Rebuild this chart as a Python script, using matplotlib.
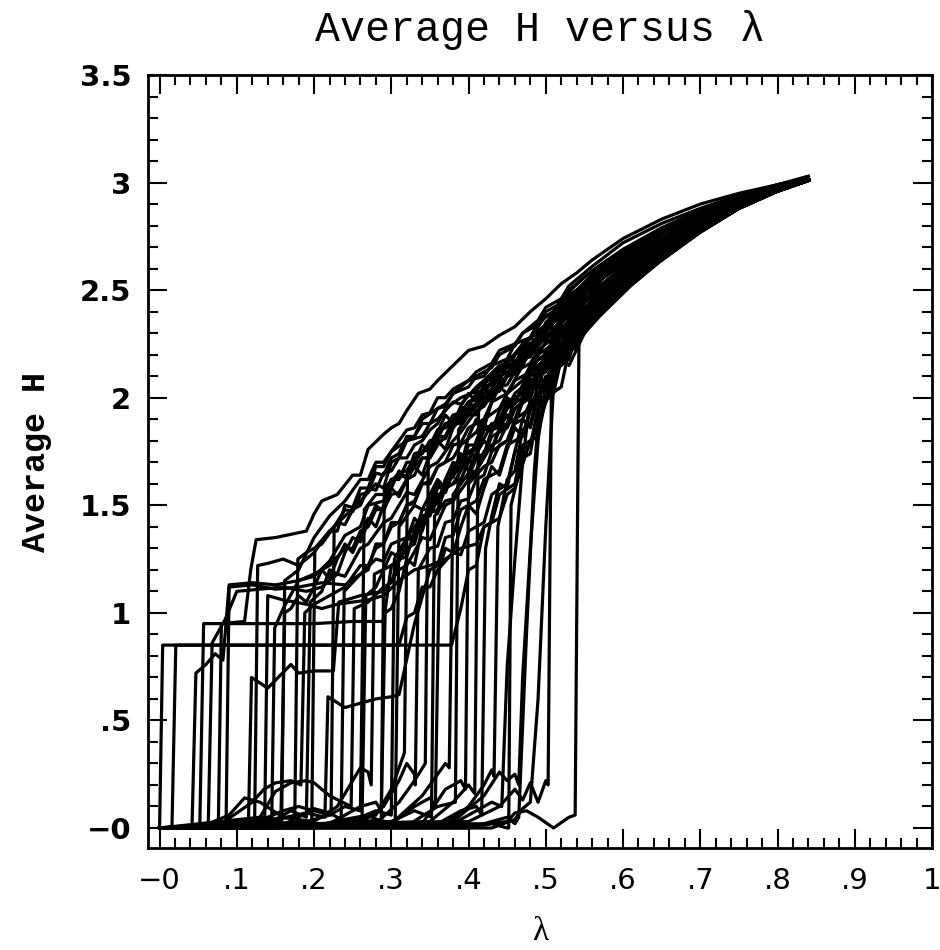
import matplotlib
matplotlib.use("Agg")
import matplotlib.pyplot as plt
from matplotlib.ticker import MultipleLocator

# one (lambda, H) knot list per run
run_01 = [(0.000, 0.00), (0.004, 0.85), (0.378, 0.85), (0.39, 1.02), (0.40, 1.20), (0.41, 1.22), (0.42, 1.40), (0.43, 1.42), (0.44, 1.55), (0.46, 1.60), (0.47, 1.78), (0.49, 1.82), (0.50, 2.00), (0.52, 2.05), (0.53, 2.22), (0.55, 2.30), (0.56, 2.38), (0.58, 2.44), (0.60, 2.52), (0.65, 2.65), (0.70, 2.78), (0.75, 2.88), (0.80, 2.96), (0.84, 3.01)]
run_02 = [(0.000, 0.00), (0.016, 0.00), (0.021, 0.85), (0.31, 0.85), (0.32, 0.98), (0.33, 1.00), (0.34, 1.12), (0.35, 1.12), (0.36, 1.20), (0.38, 1.28), (0.39, 1.27), (0.40, 1.38), (0.42, 1.42), (0.43, 1.55), (0.45, 1.60), (0.46, 1.75), (0.48, 1.78), (0.49, 1.95), (0.51, 2.02), (0.52, 2.18), (0.54, 2.24), (0.56, 2.38), (0.58, 2.44), (0.60, 2.53), (0.65, 2.66), (0.70, 2.79), (0.75, 2.89), (0.80, 2.96), (0.84, 3.01)]
run_03 = [(0.000, 0.00), (0.042, 0.01), (0.047, 0.72), (0.06, 0.76), (0.072, 0.81), (0.082, 0.78), (0.086, 0.95), (0.09, 1.13), (0.12, 1.14), (0.15, 1.13), (0.18, 1.15), (0.20, 1.17), (0.22, 1.24), (0.24, 1.36), (0.26, 1.40), (0.27, 1.50), (0.29, 1.52), (0.30, 1.62), (0.32, 1.64), (0.33, 1.74), (0.35, 1.76), (0.36, 1.85), (0.38, 1.88), (0.40, 1.98), (0.42, 2.02), (0.44, 2.14), (0.46, 2.16), (0.48, 2.28), (0.50, 2.32), (0.52, 2.43), (0.54, 2.46), (0.56, 2.55), (0.60, 2.66), (0.65, 2.76), (0.70, 2.85), (0.75, 2.93), (0.80, 2.98), (0.84, 3.02)]
run_04 = [(0.000, 0.00), (0.052, 0.00), (0.057, 0.95), (0.10, 0.95), (0.15, 0.95), (0.20, 0.95), (0.25, 0.96), (0.29, 0.96), (0.30, 1.22), (0.31, 1.25), (0.32, 1.35), (0.33, 1.33), (0.34, 1.45), (0.36, 1.48), (0.37, 1.58), (0.39, 1.62), (0.40, 1.70), (0.42, 1.74), (0.43, 1.85), (0.45, 1.88), (0.46, 2.00), (0.48, 2.04), (0.49, 2.15), (0.51, 2.20), (0.52, 2.30), (0.54, 2.34), (0.56, 2.45), (0.58, 2.50), (0.60, 2.59), (0.65, 2.71), (0.70, 2.82), (0.75, 2.91), (0.80, 2.97), (0.84, 3.01)]
run_05 = [(0.000, 0.00), (0.063, 0.01), (0.068, 0.86), (0.085, 0.97), (0.10, 1.10), (0.13, 1.11), (0.16, 1.12), (0.19, 1.10), (0.21, 1.12), (0.23, 1.18), (0.24, 1.17), (0.26, 1.30), (0.27, 1.32), (0.29, 1.42), (0.30, 1.44), (0.32, 1.56), (0.33, 1.55), (0.35, 1.68), (0.36, 1.70), (0.38, 1.80), (0.39, 1.84), (0.41, 1.94), (0.42, 1.96), (0.44, 2.07), (0.45, 2.10), (0.47, 2.20), (0.48, 2.24), (0.50, 2.34), (0.52, 2.38), (0.54, 2.47), (0.56, 2.50), (0.58, 2.58), (0.62, 2.67), (0.66, 2.76), (0.70, 2.84), (0.75, 2.92), (0.80, 2.98), (0.84, 3.02)]
run_06 = [(0.000, 0.00), (0.076, 0.00), (0.08, 0.95), (0.11, 0.96), (0.118, 1.20), (0.125, 1.34), (0.15, 1.35), (0.19, 1.38), (0.20, 1.46), (0.21, 1.52), (0.23, 1.55), (0.25, 1.64), (0.26, 1.64), (0.27, 1.76), (0.29, 1.83), (0.30, 1.86), (0.31, 1.88), (0.32, 1.94), (0.335, 2.02), (0.35, 2.04), (0.36, 2.08), (0.38, 2.15), (0.40, 2.22), (0.42, 2.24), (0.44, 2.29), (0.46, 2.33), (0.48, 2.40), (0.50, 2.46), (0.52, 2.53), (0.54, 2.58), (0.56, 2.64), (0.60, 2.74), (0.65, 2.83), (0.70, 2.90), (0.75, 2.95), (0.80, 2.99), (0.84, 3.03)]
run_07 = [(0.000, 0.00), (0.086, 0.00), (0.09, 1.12), (0.12, 1.13), (0.15, 1.11), (0.18, 1.12), (0.21, 1.14), (0.24, 1.13), (0.26, 1.18), (0.28, 1.25), (0.29, 1.24), (0.30, 1.32), (0.32, 1.35), (0.34, 1.45), (0.35, 1.46), (0.37, 1.58), (0.38, 1.60), (0.40, 1.72), (0.41, 1.74), (0.43, 1.88), (0.44, 1.88), (0.46, 2.02), (0.47, 2.05), (0.49, 2.18), (0.50, 2.20), (0.52, 2.32), (0.53, 2.36), (0.55, 2.45), (0.57, 2.48), (0.58, 2.55), (0.62, 2.65), (0.66, 2.74), (0.70, 2.83), (0.75, 2.91), (0.80, 2.97), (0.84, 3.02)]
run_08 = [(0.000, 0.00), (0.10, 0.02), (0.115, 0.02), (0.119, 0.70), (0.14, 0.65), (0.17, 0.76), (0.18, 0.72), (0.20, 0.73), (0.225, 0.73), (0.232, 1.05), (0.26, 1.08), (0.29, 1.10), (0.31, 1.20), (0.32, 1.22), (0.34, 1.35), (0.35, 1.34), (0.37, 1.50), (0.38, 1.52), (0.40, 1.62), (0.41, 1.66), (0.43, 1.78), (0.44, 1.80), (0.46, 1.95), (0.47, 1.98), (0.49, 2.12), (0.50, 2.15), (0.52, 2.28), (0.53, 2.32), (0.55, 2.42), (0.56, 2.44), (0.58, 2.52), (0.62, 2.62), (0.66, 2.72), (0.70, 2.81), (0.75, 2.90), (0.80, 2.96), (0.84, 3.01)]
run_09 = [(0.000, 0.00), (0.123, 0.01), (0.127, 1.22), (0.14, 1.23), (0.16, 1.25), (0.18, 1.22), (0.20, 1.28), (0.22, 1.38), (0.24, 1.45), (0.26, 1.52), (0.28, 1.60), (0.29, 1.58), (0.30, 1.70), (0.31, 1.72), (0.32, 1.80), (0.34, 1.82), (0.35, 1.88), (0.36, 1.90), (0.38, 1.98), (0.39, 1.97), (0.41, 2.05), (0.42, 2.08), (0.44, 2.15), (0.45, 2.16), (0.47, 2.25), (0.48, 2.28), (0.50, 2.38), (0.51, 2.40), (0.53, 2.48), (0.54, 2.50), (0.56, 2.57), (0.60, 2.66), (0.65, 2.76), (0.70, 2.85), (0.75, 2.93), (0.80, 2.98), (0.84, 3.02)]
run_10 = [(0.000, 0.00), (0.136, 0.02), (0.14, 1.08), (0.16, 1.06), (0.19, 1.04), (0.21, 1.02), (0.23, 1.04), (0.25, 1.05), (0.27, 1.06), (0.29, 1.08), (0.31, 1.15), (0.33, 1.20), (0.35, 1.22), (0.37, 1.25), (0.39, 1.30), (0.41, 1.32), (0.42, 1.40), (0.44, 1.44), (0.45, 1.55), (0.46, 1.58), (0.48, 1.80), (0.49, 1.86), (0.51, 2.10), (0.52, 2.16), (0.54, 2.33), (0.55, 2.36), (0.57, 2.46), (0.61, 2.58), (0.65, 2.69), (0.70, 2.80), (0.75, 2.90), (0.80, 2.97), (0.84, 3.02)]
run_11 = [(0.000, 0.00), (0.145, 0.00), (0.149, 0.93), (0.16, 1.02), (0.18, 1.15), (0.20, 1.18), (0.22, 1.22), (0.24, 1.30), (0.25, 1.30), (0.26, 1.38), (0.27, 1.40), (0.28, 1.48), (0.29, 1.48), (0.30, 1.55), (0.31, 1.56), (0.32, 1.62), (0.33, 1.64), (0.34, 1.72), (0.35, 1.72), (0.36, 1.78), (0.37, 1.82), (0.38, 1.88), (0.40, 1.92), (0.42, 2.00), (0.43, 2.02), (0.45, 2.10), (0.46, 2.12), (0.48, 2.22), (0.49, 2.25), (0.51, 2.35), (0.52, 2.38), (0.54, 2.48), (0.55, 2.50), (0.58, 2.58), (0.62, 2.67), (0.66, 2.76), (0.70, 2.84), (0.75, 2.92), (0.80, 2.98), (0.84, 3.02)]
run_12 = [(0.000, 0.00), (0.158, 0.03), (0.162, 1.15), (0.18, 1.20), (0.20, 1.35), (0.22, 1.45), (0.24, 1.52), (0.26, 1.62), (0.27, 1.62), (0.28, 1.70), (0.29, 1.70), (0.30, 1.75), (0.31, 1.80), (0.32, 1.85), (0.33, 1.86), (0.34, 1.92), (0.35, 1.93), (0.36, 2.00), (0.37, 2.00), (0.38, 2.04), (0.40, 2.08), (0.41, 2.12), (0.43, 2.16), (0.44, 2.22), (0.46, 2.25), (0.47, 2.30), (0.49, 2.36), (0.50, 2.42), (0.52, 2.46), (0.53, 2.52), (0.56, 2.61), (0.60, 2.72), (0.65, 2.81), (0.70, 2.88), (0.75, 2.94), (0.80, 2.99), (0.84, 3.02)]
run_13 = [(0.000, 0.00), (0.175, 0.05), (0.179, 1.25), (0.19, 1.28), (0.21, 1.32), (0.23, 1.42), (0.24, 1.41), (0.25, 1.48), (0.26, 1.50), (0.27, 1.58), (0.28, 1.57), (0.29, 1.65), (0.30, 1.66), (0.31, 1.72), (0.32, 1.72), (0.33, 1.78), (0.34, 1.80), (0.35, 1.85), (0.36, 1.88), (0.37, 1.95), (0.39, 2.00), (0.41, 2.03), (0.42, 2.08), (0.44, 2.12), (0.45, 2.18), (0.47, 2.22), (0.48, 2.28), (0.50, 2.34), (0.51, 2.40), (0.53, 2.45), (0.54, 2.50), (0.57, 2.59), (0.61, 2.69), (0.65, 2.78), (0.70, 2.86), (0.75, 2.93), (0.80, 2.98), (0.84, 3.02)]
run_14 = [(0.000, 0.00), (0.08, 0.02), (0.12, 0.12), (0.135, 0.18), (0.15, 0.21), (0.17, 0.22), (0.183, 0.20), (0.188, 1.00), (0.20, 1.04), (0.22, 1.08), (0.24, 1.12), (0.26, 1.22), (0.27, 1.22), (0.28, 1.30), (0.29, 1.32), (0.30, 1.42), (0.31, 1.42), (0.32, 1.50), (0.33, 1.52), (0.34, 1.60), (0.35, 1.60), (0.36, 1.68), (0.38, 1.72), (0.39, 1.78), (0.41, 1.84), (0.42, 1.90), (0.44, 1.95), (0.45, 2.02), (0.47, 2.08), (0.48, 2.15), (0.50, 2.20), (0.51, 2.28), (0.53, 2.34), (0.54, 2.42), (0.58, 2.53), (0.62, 2.63), (0.66, 2.73), (0.70, 2.82), (0.75, 2.91), (0.80, 2.97), (0.84, 3.02)]
run_15 = [(0.000, 0.00), (0.05, 0.00), (0.09, 0.06), (0.11, 0.14), (0.13, 0.12), (0.16, 0.05), (0.197, 0.03), (0.201, 1.30), (0.22, 1.38), (0.23, 1.38), (0.24, 1.50), (0.25, 1.49), (0.26, 1.58), (0.27, 1.58), (0.28, 1.68), (0.29, 1.68), (0.30, 1.75), (0.32, 1.80), (0.33, 1.82), (0.34, 1.88), (0.35, 1.88), (0.36, 1.95), (0.37, 1.96), (0.38, 2.02), (0.40, 2.05), (0.41, 2.10), (0.43, 2.14), (0.44, 2.20), (0.46, 2.24), (0.47, 2.30), (0.49, 2.34), (0.50, 2.40), (0.52, 2.44), (0.53, 2.50), (0.56, 2.59), (0.60, 2.69), (0.65, 2.79), (0.70, 2.87), (0.75, 2.94), (0.80, 2.98), (0.84, 3.02)]
run_16 = [(0.000, 0.00), (0.10, 0.00), (0.15, 0.04), (0.19, 0.07), (0.214, 0.05), (0.218, 0.61), (0.24, 0.56), (0.26, 0.58), (0.28, 0.60), (0.30, 0.61), (0.31, 0.62), (0.33, 0.95), (0.35, 1.20), (0.36, 1.22), (0.37, 1.35), (0.38, 1.36), (0.39, 1.48), (0.41, 1.52), (0.42, 1.62), (0.44, 1.66), (0.45, 1.78), (0.47, 1.82), (0.48, 1.95), (0.50, 2.00), (0.51, 2.12), (0.53, 2.18), (0.54, 2.30), (0.56, 2.36), (0.57, 2.43), (0.61, 2.55), (0.65, 2.67), (0.70, 2.79), (0.75, 2.89), (0.80, 2.96), (0.84, 3.01)]
run_17 = [(0.000, 0.00), (0.12, 0.02), (0.16, 0.08), (0.18, 0.10), (0.20, 0.08), (0.222, 0.06), (0.226, 1.40), (0.24, 1.48), (0.25, 1.47), (0.26, 1.55), (0.27, 1.56), (0.28, 1.65), (0.29, 1.64), (0.30, 1.72), (0.31, 1.74), (0.32, 1.82), (0.33, 1.82), (0.34, 1.90), (0.36, 1.95), (0.37, 1.97), (0.38, 2.02), (0.40, 2.08), (0.42, 2.10), (0.43, 2.15), (0.45, 2.18), (0.46, 2.25), (0.48, 2.28), (0.49, 2.35), (0.51, 2.40), (0.52, 2.46), (0.55, 2.56), (0.58, 2.64), (0.62, 2.72), (0.66, 2.80), (0.70, 2.87), (0.75, 2.94), (0.80, 2.99), (0.84, 3.02)]
run_18 = [(0.000, 0.00), (0.15, 0.00), (0.18, 0.05), (0.20, 0.09), (0.22, 0.07), (0.235, 0.04), (0.239, 1.10), (0.26, 1.18), (0.27, 1.20), (0.28, 1.32), (0.29, 1.32), (0.30, 1.40), (0.31, 1.42), (0.32, 1.50), (0.33, 1.51), (0.34, 1.60), (0.35, 1.61), (0.36, 1.68), (0.37, 1.70), (0.38, 1.78), (0.39, 1.79), (0.40, 1.86), (0.42, 1.90), (0.43, 1.98), (0.45, 2.02), (0.46, 2.08), (0.48, 2.12), (0.49, 2.20), (0.51, 2.25), (0.52, 2.32), (0.54, 2.38), (0.55, 2.44), (0.58, 2.53), (0.62, 2.63), (0.66, 2.72), (0.70, 2.82), (0.75, 2.91), (0.80, 2.97), (0.84, 3.02)]
run_19 = [(0.000, 0.00), (0.13, 0.05), (0.15, 0.17), (0.17, 0.21), (0.19, 0.22), (0.20, 0.21), (0.22, 0.15), (0.248, 0.10), (0.252, 1.02), (0.27, 1.05), (0.29, 1.12), (0.30, 1.14), (0.31, 1.25), (0.32, 1.26), (0.33, 1.38), (0.34, 1.38), (0.35, 1.50), (0.36, 1.51), (0.37, 1.62), (0.38, 1.63), (0.39, 1.72), (0.41, 1.76), (0.42, 1.85), (0.44, 1.88), (0.45, 1.98), (0.47, 2.02), (0.48, 2.12), (0.50, 2.16), (0.51, 2.25), (0.53, 2.30), (0.54, 2.38), (0.57, 2.49), (0.61, 2.61), (0.65, 2.72), (0.70, 2.82), (0.75, 2.91), (0.80, 2.97), (0.84, 3.02)]
run_20 = [(0.000, 0.00), (0.18, 0.02), (0.22, 0.06), (0.24, 0.10), (0.26, 0.08), (0.265, 1.48), (0.28, 1.55), (0.29, 1.55), (0.30, 1.62), (0.31, 1.62), (0.32, 1.70), (0.33, 1.70), (0.34, 1.75), (0.35, 1.78), (0.36, 1.85), (0.37, 1.86), (0.38, 1.92), (0.39, 1.93), (0.40, 1.98), (0.41, 2.00), (0.42, 2.05), (0.44, 2.08), (0.45, 2.15), (0.47, 2.18), (0.48, 2.25), (0.50, 2.30), (0.51, 2.36), (0.53, 2.42), (0.54, 2.47), (0.57, 2.57), (0.61, 2.68), (0.65, 2.77), (0.70, 2.85), (0.75, 2.92), (0.80, 2.98), (0.84, 3.02)]
run_21 = [(0.000, 0.00), (0.20, 0.03), (0.23, 0.10), (0.25, 0.22), (0.26, 0.28), (0.27, 0.26), (0.274, 0.20), (0.278, 1.18), (0.30, 1.22), (0.31, 1.24), (0.32, 1.30), (0.33, 1.32), (0.34, 1.45), (0.35, 1.45), (0.36, 1.55), (0.37, 1.56), (0.38, 1.68), (0.39, 1.68), (0.40, 1.78), (0.41, 1.78), (0.42, 1.85), (0.44, 1.90), (0.45, 1.98), (0.47, 2.02), (0.48, 2.10), (0.50, 2.15), (0.51, 2.22), (0.53, 2.28), (0.54, 2.35), (0.57, 2.46), (0.61, 2.57), (0.65, 2.68), (0.70, 2.80), (0.75, 2.90), (0.80, 2.97), (0.84, 3.01)]
run_22 = [(0.000, 0.00), (0.20, 0.00), (0.24, 0.04), (0.27, 0.06), (0.287, 0.03), (0.291, 1.58), (0.31, 1.65), (0.32, 1.66), (0.33, 1.72), (0.34, 1.74), (0.35, 1.80), (0.36, 1.81), (0.37, 1.88), (0.38, 1.89), (0.39, 1.95), (0.40, 1.96), (0.41, 2.02), (0.43, 2.06), (0.44, 2.12), (0.46, 2.16), (0.47, 2.22), (0.49, 2.26), (0.50, 2.32), (0.52, 2.38), (0.53, 2.44), (0.56, 2.54), (0.60, 2.64), (0.65, 2.74), (0.70, 2.83), (0.75, 2.92), (0.80, 2.98), (0.84, 3.02)]
run_23 = [(0.000, 0.00), (0.22, 0.01), (0.26, 0.05), (0.28, 0.08), (0.300, 0.06), (0.304, 1.25), (0.32, 1.35), (0.33, 1.36), (0.34, 1.48), (0.35, 1.48), (0.36, 1.58), (0.37, 1.59), (0.38, 1.65), (0.39, 1.68), (0.40, 1.75), (0.41, 1.77), (0.42, 1.85), (0.44, 1.88), (0.45, 1.95), (0.47, 2.00), (0.48, 2.08), (0.50, 2.12), (0.51, 2.20), (0.53, 2.26), (0.54, 2.33), (0.57, 2.44), (0.61, 2.56), (0.65, 2.68), (0.70, 2.79), (0.75, 2.89), (0.80, 2.96), (0.84, 3.01)]
run_24 = [(0.000, 0.00), (0.24, 0.02), (0.28, 0.06), (0.30, 0.18), (0.31, 0.28), (0.317, 0.35), (0.321, 1.65), (0.34, 1.72), (0.35, 1.72), (0.36, 1.80), (0.37, 1.81), (0.38, 1.88), (0.39, 1.88), (0.40, 1.96), (0.41, 1.97), (0.42, 2.02), (0.43, 2.04), (0.44, 2.10), (0.46, 2.14), (0.47, 2.20), (0.49, 2.25), (0.50, 2.32), (0.52, 2.38), (0.53, 2.45), (0.56, 2.56), (0.60, 2.67), (0.65, 2.77), (0.70, 2.85), (0.75, 2.92), (0.80, 2.98), (0.84, 3.02)]
run_25 = [(0.000, 0.00), (0.26, 0.02), (0.29, 0.10), (0.31, 0.22), (0.32, 0.30), (0.33, 0.25), (0.331, 0.20), (0.335, 1.20), (0.35, 1.30), (0.36, 1.31), (0.37, 1.42), (0.38, 1.43), (0.39, 1.52), (0.40, 1.53), (0.41, 1.62), (0.42, 1.64), (0.43, 1.75), (0.45, 1.80), (0.46, 1.90), (0.48, 1.95), (0.49, 2.05), (0.51, 2.12), (0.52, 2.22), (0.54, 2.30), (0.55, 2.36), (0.58, 2.46), (0.62, 2.58), (0.66, 2.69), (0.70, 2.79), (0.75, 2.89), (0.80, 2.96), (0.84, 3.01)]
run_26 = [(0.000, 0.00), (0.28, 0.02), (0.31, 0.12), (0.33, 0.22), (0.344, 0.30), (0.348, 1.75), (0.36, 1.82), (0.37, 1.82), (0.38, 1.90), (0.39, 1.91), (0.40, 1.98), (0.41, 1.99), (0.42, 2.05), (0.43, 2.06), (0.44, 2.12), (0.46, 2.16), (0.47, 2.22), (0.49, 2.28), (0.50, 2.34), (0.52, 2.40), (0.53, 2.46), (0.56, 2.57), (0.60, 2.68), (0.65, 2.78), (0.70, 2.86), (0.75, 2.93), (0.80, 2.98), (0.84, 3.02)]
run_27 = [(0.000, 0.00), (0.30, 0.03), (0.33, 0.08), (0.352, 0.05), (0.356, 1.45), (0.37, 1.52), (0.38, 1.53), (0.39, 1.62), (0.40, 1.63), (0.41, 1.72), (0.42, 1.73), (0.43, 1.82), (0.45, 1.86), (0.46, 1.95), (0.48, 2.00), (0.49, 2.10), (0.51, 2.16), (0.52, 2.25), (0.54, 2.32), (0.55, 2.40), (0.58, 2.51), (0.62, 2.62), (0.66, 2.72), (0.70, 2.81), (0.75, 2.90), (0.80, 2.97), (0.84, 3.02)]
run_28 = [(0.000, 0.00), (0.30, 0.02), (0.34, 0.15), (0.36, 0.25), (0.37, 0.30), (0.375, 0.28), (0.38, 1.55), (0.40, 1.65), (0.41, 1.66), (0.42, 1.75), (0.43, 1.76), (0.44, 1.85), (0.46, 1.90), (0.47, 2.00), (0.49, 2.06), (0.50, 2.15), (0.52, 2.22), (0.53, 2.28), (0.55, 2.35), (0.56, 2.40), (0.60, 2.52), (0.65, 2.64), (0.70, 2.77), (0.75, 2.88), (0.80, 2.96), (0.84, 3.01)]
run_29 = [(0.000, 0.00), (0.32, 0.01), (0.36, 0.10), (0.383, 0.12), (0.387, 1.85), (0.40, 1.92), (0.41, 1.92), (0.42, 1.98), (0.43, 1.99), (0.44, 2.05), (0.45, 2.06), (0.46, 2.12), (0.48, 2.16), (0.49, 2.22), (0.51, 2.28), (0.52, 2.35), (0.54, 2.42), (0.55, 2.48), (0.58, 2.59), (0.62, 2.69), (0.66, 2.78), (0.70, 2.86), (0.75, 2.93), (0.80, 2.98), (0.84, 3.02)]
run_30 = [(0.000, 0.00), (0.34, 0.02), (0.37, 0.18), (0.39, 0.22), (0.396, 0.18), (0.40, 1.60), (0.42, 1.68), (0.43, 1.70), (0.44, 1.78), (0.45, 1.80), (0.46, 1.88), (0.47, 1.90), (0.48, 1.98), (0.50, 2.04), (0.51, 2.12), (0.53, 2.20), (0.54, 2.26), (0.57, 2.38), (0.61, 2.52), (0.65, 2.64), (0.70, 2.77), (0.75, 2.88), (0.80, 2.96), (0.84, 3.01)]
run_31 = [(0.000, 0.00), (0.35, 0.03), (0.38, 0.12), (0.40, 0.20), (0.408, 0.16), (0.413, 1.95), (0.43, 2.02), (0.44, 2.03), (0.45, 2.10), (0.46, 2.11), (0.47, 2.18), (0.48, 2.19), (0.49, 2.25), (0.51, 2.30), (0.52, 2.38), (0.54, 2.44), (0.55, 2.50), (0.58, 2.61), (0.62, 2.71), (0.66, 2.79), (0.70, 2.87), (0.75, 2.94), (0.80, 2.98), (0.84, 3.02)]
run_32 = [(0.000, 0.00), (0.37, 0.02), (0.40, 0.10), (0.42, 0.20), (0.43, 0.27), (0.433, 0.24), (0.438, 1.40), (0.45, 1.62), (0.46, 1.66), (0.47, 1.85), (0.48, 1.88), (0.49, 2.02), (0.50, 2.05), (0.51, 2.18), (0.53, 2.26), (0.54, 2.34), (0.57, 2.46), (0.61, 2.58), (0.65, 2.70), (0.70, 2.81), (0.75, 2.90), (0.80, 2.97), (0.84, 3.02)]
run_33 = [(0.000, 0.00), (0.38, 0.02), (0.41, 0.08), (0.43, 0.12), (0.443, 0.10), (0.45, 0.75), (0.46, 1.25), (0.47, 1.70), (0.48, 2.00), (0.50, 2.22), (0.51, 2.24), (0.52, 2.35), (0.54, 2.40), (0.55, 2.48), (0.58, 2.58), (0.62, 2.67), (0.66, 2.76), (0.70, 2.85), (0.75, 2.93), (0.80, 2.98), (0.84, 3.02)]
run_34 = [(0.000, 0.00), (0.40, 0.00), (0.43, 0.02), (0.45, 0.00), (0.452, 0.00), (0.455, 1.50), (0.47, 1.72), (0.48, 1.74), (0.49, 1.95), (0.50, 1.98), (0.51, 2.15), (0.52, 2.18), (0.53, 2.30), (0.56, 2.42), (0.60, 2.54), (0.65, 2.68), (0.70, 2.80), (0.75, 2.90), (0.80, 2.97), (0.84, 3.01)]
run_35 = [(0.000, 0.00), (0.40, 0.03), (0.44, 0.10), (0.46, 0.18), (0.47, 0.13), (0.48, 0.21), (0.49, 0.12), (0.50, 0.22), (0.503, 0.20), (0.508, 2.35), (0.52, 2.42), (0.54, 2.50), (0.57, 2.58), (0.61, 2.66), (0.65, 2.74), (0.70, 2.83), (0.75, 2.91), (0.80, 2.97), (0.84, 3.02)]
run_36 = [(0.000, 0.00), (0.40, 0.01), (0.45, 0.03), (0.46, 0.07), (0.475, 0.08), (0.49, 0.05), (0.51, 0.00), (0.53, 0.05), (0.538, 0.06), (0.543, 2.30), (0.56, 2.40), (0.58, 2.46), (0.61, 2.54), (0.65, 2.64), (0.70, 2.77), (0.75, 2.88), (0.80, 2.96), (0.84, 3.01)]
run_37 = [(0.000, 0.00), (0.42, 0.02), (0.45, 0.05), (0.46, 0.02), (0.465, 0.05), (0.475, 0.90), (0.485, 1.65), (0.495, 2.12), (0.51, 2.28), (0.53, 2.40), (0.56, 2.53), (0.60, 2.63), (0.65, 2.74), (0.70, 2.83), (0.75, 2.91), (0.80, 2.97), (0.84, 3.02)]
run_38 = [(0.000, 0.00), (0.43, 0.00), (0.46, 0.04), (0.47, 0.09), (0.48, 0.12), (0.49, 0.60), (0.50, 1.40), (0.51, 2.05), (0.525, 2.28), (0.54, 2.40), (0.57, 2.52), (0.61, 2.63), (0.65, 2.73), (0.70, 2.82), (0.75, 2.91), (0.80, 2.97), (0.84, 3.01)]
run_39 = [(0.000, 0.00), (0.14, 0.02), (0.17, 0.08), (0.19, 0.05), (0.195, 1.05), (0.21, 1.10), (0.22, 1.20), (0.23, 1.18), (0.24, 1.28), (0.25, 1.35), (0.26, 1.33), (0.27, 1.42), (0.28, 1.50), (0.29, 1.47), (0.30, 1.58), (0.31, 1.66), (0.32, 1.62), (0.33, 1.70), (0.34, 1.78), (0.35, 1.74), (0.36, 1.84), (0.37, 1.92), (0.38, 1.88), (0.39, 1.96), (0.40, 2.02), (0.41, 1.98), (0.42, 2.06), (0.44, 2.14), (0.45, 2.10), (0.46, 2.20), (0.48, 2.28), (0.49, 2.25), (0.50, 2.35), (0.52, 2.42), (0.53, 2.40), (0.55, 2.50), (0.58, 2.57), (0.62, 2.66), (0.66, 2.75), (0.70, 2.84), (0.75, 2.92), (0.80, 2.97), (0.84, 3.02)]
run_40 = [(0.000, 0.00), (0.22, 0.02), (0.26, 0.10), (0.28, 0.12), (0.287, 0.08), (0.292, 1.00), (0.30, 1.02), (0.31, 1.10), (0.32, 1.25), (0.33, 1.22), (0.34, 1.40), (0.35, 1.50), (0.36, 1.46), (0.37, 1.62), (0.38, 1.70), (0.39, 1.68), (0.40, 1.82), (0.41, 1.90), (0.42, 1.86), (0.43, 1.98), (0.44, 2.05), (0.45, 2.02), (0.47, 2.15), (0.48, 2.22), (0.49, 2.20), (0.51, 2.32), (0.53, 2.40), (0.55, 2.45), (0.57, 2.50), (0.60, 2.56), (0.65, 2.68), (0.70, 2.79), (0.75, 2.89), (0.80, 2.96), (0.84, 3.01)]
run_41 = [(0.000, 0.00), (0.25, 0.01), (0.28, 0.04), (0.305, 0.02), (0.31, 1.40), (0.32, 1.45), (0.33, 1.50), (0.34, 1.48), (0.35, 1.55), (0.36, 1.62), (0.37, 1.58), (0.38, 1.64), (0.39, 1.70), (0.40, 1.66), (0.41, 1.74), (0.42, 1.80), (0.43, 1.76), (0.44, 1.86), (0.45, 1.92), (0.46, 1.88), (0.47, 1.98), (0.49, 2.06), (0.50, 2.04), (0.52, 2.18), (0.54, 2.30), (0.56, 2.38), (0.58, 2.46), (0.61, 2.55), (0.65, 2.67), (0.70, 2.79), (0.75, 2.88), (0.80, 2.96), (0.84, 3.01)]
run_42 = [(0.000, 0.00), (0.30, 0.02), (0.33, 0.10), (0.35, 0.14), (0.357, 0.10), (0.362, 1.20), (0.37, 1.30), (0.38, 1.28), (0.39, 1.40), (0.40, 1.50), (0.41, 1.46), (0.42, 1.58), (0.43, 1.68), (0.44, 1.64), (0.45, 1.76), (0.46, 1.86), (0.47, 1.82), (0.48, 1.94), (0.49, 2.02), (0.50, 1.98), (0.51, 2.10), (0.52, 2.18), (0.53, 2.15), (0.55, 2.30), (0.57, 2.40), (0.60, 2.50), (0.65, 2.64), (0.70, 2.77), (0.75, 2.88), (0.80, 2.96), (0.84, 3.01)]
run_43 = [(0.000, 0.00), (0.20, 0.01), (0.24, 0.04), (0.262, 0.02), (0.267, 1.08), (0.28, 1.12), (0.29, 1.20), (0.30, 1.28), (0.31, 1.26), (0.32, 1.34), (0.33, 1.44), (0.34, 1.40), (0.35, 1.52), (0.36, 1.60), (0.37, 1.56), (0.38, 1.66), (0.39, 1.74), (0.40, 1.70), (0.41, 1.80), (0.42, 1.88), (0.43, 1.84), (0.44, 1.94), (0.45, 2.00), (0.46, 1.97), (0.47, 2.06), (0.48, 2.12), (0.50, 2.18), (0.52, 2.28), (0.54, 2.36), (0.56, 2.43), (0.59, 2.51), (0.62, 2.59), (0.66, 2.69), (0.70, 2.79), (0.75, 2.89), (0.80, 2.96), (0.84, 3.01)]
run_44 = [(0.000, 0.00), (0.36, 0.02), (0.39, 0.08), (0.41, 0.10), (0.417, 0.06), (0.422, 1.30), (0.43, 1.45), (0.44, 1.60), (0.45, 1.58), (0.46, 1.75), (0.47, 1.90), (0.48, 1.86), (0.49, 2.00), (0.50, 2.10), (0.51, 2.08), (0.52, 2.20), (0.54, 2.28), (0.56, 2.36), (0.58, 2.43), (0.60, 2.50), (0.65, 2.65), (0.70, 2.77), (0.75, 2.88), (0.80, 2.96), (0.84, 3.01)]
run_45 = [(0.000, 0.00), (0.10, 0.01), (0.13, 0.05), (0.157, 0.03), (0.162, 1.00), (0.17, 1.02), (0.18, 1.08), (0.19, 1.05), (0.20, 1.12), (0.21, 1.20), (0.22, 1.16), (0.23, 1.25), (0.24, 1.32), (0.25, 1.28), (0.26, 1.36), (0.27, 1.44), (0.28, 1.40), (0.29, 1.50), (0.30, 1.58), (0.31, 1.54), (0.32, 1.62), (0.33, 1.68), (0.34, 1.64), (0.35, 1.74), (0.36, 1.80), (0.37, 1.76), (0.38, 1.86), (0.40, 1.94), (0.42, 2.00), (0.44, 2.06), (0.46, 2.14), (0.48, 2.20), (0.50, 2.28), (0.52, 2.36), (0.55, 2.46), (0.58, 2.55), (0.62, 2.64), (0.66, 2.73), (0.70, 2.82), (0.75, 2.90), (0.80, 2.96), (0.84, 3.01)]
run_46 = [(0.000, 0.00), (0.38, 0.03), (0.42, 0.15), (0.44, 0.26), (0.45, 0.22), (0.46, 0.25), (0.465, 0.20), (0.47, 0.70), (0.48, 1.30), (0.49, 1.80), (0.50, 2.08), (0.52, 2.25), (0.54, 2.35), (0.57, 2.47), (0.61, 2.58), (0.65, 2.69), (0.70, 2.80), (0.75, 2.90), (0.80, 2.96), (0.84, 3.01)]

runs = [run_01, run_02, run_03, run_04, run_05, run_06, run_07, run_08, run_09, run_10,
        run_11, run_12, run_13, run_14, run_15, run_16, run_17, run_18, run_19, run_20,
        run_21, run_22, run_23, run_24, run_25, run_26, run_27, run_28, run_29, run_30,
        run_31, run_32, run_33, run_34, run_35, run_36, run_37, run_38, run_39, run_40,
        run_41, run_42, run_43, run_44, run_45, run_46]

x_ticks = [0.0, 0.1, 0.2, 0.3, 0.4, 0.5, 0.6, 0.7, 0.8, 0.9, 1.0]
x_labels = ['\u22120', '.1', '.2', '.3', '.4', '.5', '.6', '.7', '.8', '.9', '1']
y_ticks = [0.0, 0.5, 1.0, 1.5, 2.0, 2.5, 3.0, 3.5]
y_labels = ['\u22120', '.5', '1', '1.5', '2', '2.5', '3', '3.5']

fig = plt.figure(figsize=(9.4, 9.5), dpi=100)
ax = fig.add_axes([148 / 940, 1 - 848 / 950, 784 / 940, 773 / 950])

for run in runs:
    lam = [p[0] for p in run]
    h = [p[1] for p in run]
    ax.plot(lam, h, color='black', lw=2.3, solid_joinstyle='round')

ax.set_xlim(-0.015, 1.0)
ax.set_ylim(-0.093, 3.5)
ax.set_xticks(x_ticks)
ax.set_xticklabels(x_labels, fontsize=21)
ax.set_yticks(y_ticks)
ax.set_yticklabels(y_labels, fontsize=21, fontweight='bold')
ax.xaxis.set_minor_locator(MultipleLocator(0.02))
ax.yaxis.set_minor_locator(MultipleLocator(0.1))
ax.tick_params(which='both', direction='in', top=True, right=True, width=1.5, color='black')
ax.tick_params(which='major', length=14)
ax.tick_params(which='minor', length=7)
ax.tick_params(axis='x', which='major', pad=14)
ax.tick_params(axis='y', which='major', pad=12)
for s in ax.spines.values():
    s.set_linewidth(2)

fig.text(540 / 940, 1 - 30 / 950, 'Average H versus \u03bb', ha='center', va='center',
         fontsize=30, family=['Liberation Mono', 'DejaVu Sans Mono'])
fig.text(37 / 940, 1 - 462 / 950, 'Average H', rotation=90, ha='center', va='center',
         fontsize=24, fontweight='bold', family='Liberation Mono')
fig.text(540 / 940, 1 - 932 / 950, '\u03bb', ha='center', va='center',
         fontsize=24, family=['Liberation Serif', 'DejaVu Serif'])

fig.savefig('out.png', dpi=100)
